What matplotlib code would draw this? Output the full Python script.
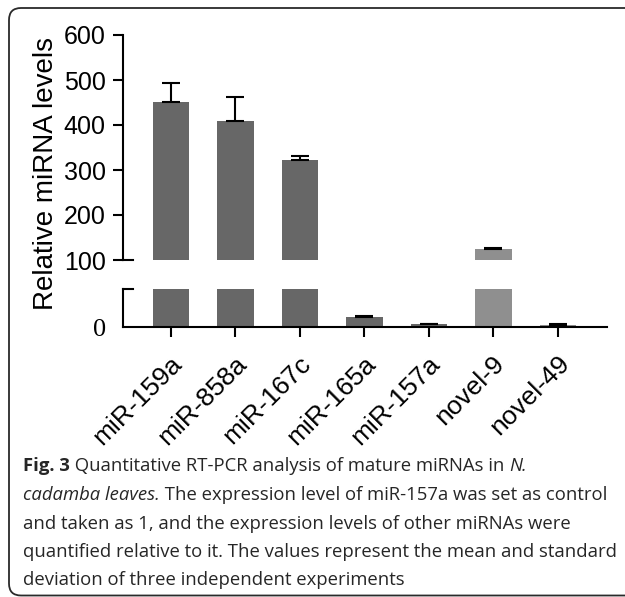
import matplotlib
matplotlib.use("Agg")
import matplotlib.pyplot as plt
from matplotlib.path import Path
from matplotlib.patches import PathPatch
from matplotlib.transforms import IdentityTransform, ScaledTranslation
import numpy as np

# data
labels = ['miR-159a', 'miR-858a', 'miR-167c', 'miR-165a', 'miR-157a', 'novel-9', 'novel-49']
means = [451, 409, 322, 3.6, 1.0, 124, 0.9]
errs = [42, 53, 9, 0.5, 0.15, 3, 0.1]
colors = ['#676767', '#676767', '#676767', '#676767', '#676767', '#8f8f8f', '#8f8f8f']
upper_ticks = [100, 200, 300, 400, 500, 600]

caption = [
    [("Fig. 3", "bold", "normal"), (" Quantitative RT-PCR analysis of mature miRNAs in ", "normal", "normal"),
     ("N.", "normal", "italic")],
    [("cadamba leaves.", "normal", "italic"), (" The expression level of miR-157a was set as control", "normal", "normal")],
    [("and taken as 1, and the expression levels of other miRNAs were", "normal", "normal")],
    [("quantified relative to it. The values represent the mean and standard", "normal", "normal")],
    [("deviation of three independent experiments", "normal", "normal")],
]

W, H = 625, 597
fig = plt.figure(figsize=(W / 100, H / 100), dpi=100)
plt.rcParams['font.family'] = ['Liberation Sans', 'DejaVu Sans']

# panel border: open on the right, rounded corners on the left (pixel coords, origin bottom-left)
r = 12
top, bot, lx = H - 8, 1.5, 9
verts = [(W + 10, top), (lx + r, top), (lx, top), (lx, top - r), (lx, bot + r), (lx, bot), (lx + r, bot), (W + 10, bot)]
codes = [Path.MOVETO, Path.LINETO, Path.CURVE3, Path.CURVE3, Path.LINETO, Path.CURVE3, Path.CURVE3, Path.LINETO]
fig.patches.append(PathPatch(Path(verts, codes), transform=IdentityTransform(), fill=False,
                             edgecolor='#2a2a2a', linewidth=1.3))

left, width = 123 / W, (607 - 123) / W
ax_top = fig.add_axes([left, 1 - 260 / H, width, (260 - 35) / H])
ax_bot = fig.add_axes([left, 1 - 327 / H, width, (327 - 289) / H])

x = np.arange(len(labels))
lw = 1.5
for ax in (ax_top, ax_bot):
    ax.bar(x, means, width=0.57, color=colors, zorder=2)
    ax.errorbar(x, means, yerr=[np.zeros(len(errs)), errs], fmt='none', ecolor='black',
                elinewidth=lw, capsize=6.5, capthick=lw, zorder=3)
    ax.set_xlim(-0.744, 6.76)
    for s in ('top', 'right'):
        ax.spines[s].set_visible(False)
    ax.spines['left'].set_linewidth(lw)
    ax.spines['bottom'].set_linewidth(lw)
    ax.set_facecolor('none')

ax_top.set_ylim(100, 600)
ax_top.set_yticks(upper_ticks)
ax_top.spines['bottom'].set_visible(False)
ax_top.tick_params(axis='x', bottom=False, labelbottom=False)
ax_top.tick_params(axis='y', length=7.5, width=lw, pad=5, labelsize=18)
ax_top.plot([0, 0.021], [0, 0], transform=ax_top.transAxes, color='black', lw=lw, clip_on=False)

ax_bot.set_ylim(0, 14)
ax_bot.set_yticks([0])
ax_bot.set_yticklabels(['0'], fontfamily='Liberation Serif', fontsize=19)
ax_bot.tick_params(axis='y', length=0, pad=12)
ax_bot.set_xticks(x)
ax_bot.set_xticklabels(labels, rotation=45, ha='right', rotation_mode='anchor', fontsize=19)
ax_bot.tick_params(axis='x', length=7.5, width=lw, pad=10)
shift = ScaledTranslation(-1 / 100, 0, fig.dpi_scale_trans)
for lab in ax_bot.get_xticklabels():
    lab.set_transform(lab.get_transform() + shift)
ax_bot.plot([0, 0.021], [1, 1], transform=ax_bot.transAxes, color='black', lw=lw, clip_on=False)

fig.text(46 / W, 1 - 173 / H, 'Relative miRNA levels', rotation=90, ha='center', va='center', fontsize=20)

# caption, built piece by piece so bold / italic runs sit on one line
fig.canvas.draw()
renderer = fig.canvas.get_renderer()
cap_x0 = 23 / W
baselines = [471, 500, 529, 557, 585]
for line, yb in zip(caption, baselines):
    xp = cap_x0
    for txt, weight, style in line:
        t = fig.text(xp, 1 - yb / H, txt, fontsize=13.3, fontweight=weight, fontstyle=style,
                     family='Open Sans', color='#262626', va='baseline', ha='left')
        xp += t.get_window_extent(renderer).width / W

fig.savefig('out.png', dpi=100)
